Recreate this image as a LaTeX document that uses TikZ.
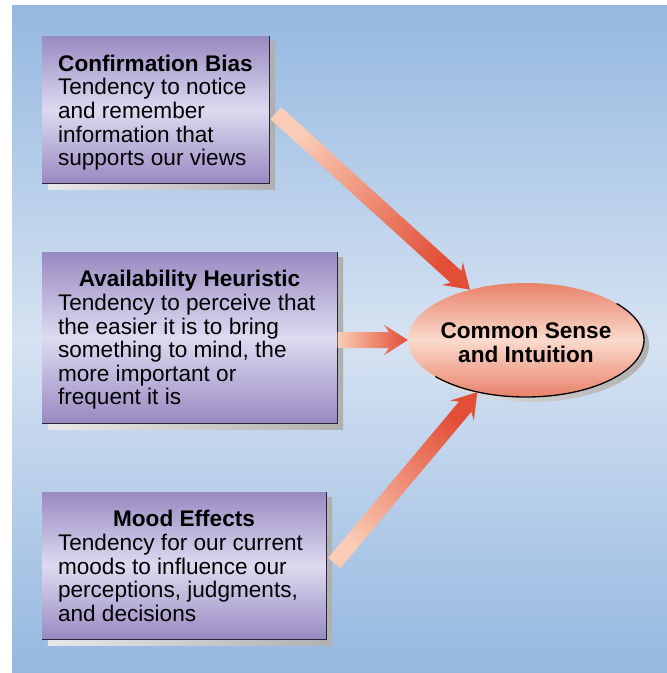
\documentclass[tikz,border=0pt]{standalone}
\usepackage{fontspec}
\setmainfont{Liberation Sans}
\usetikzlibrary{calc,shapes.geometric}
\pgfdeclarelayer{back}
\pgfsetlayers{back,main}

\definecolor{bgEdge}{RGB}{148,184,224}
\definecolor{bgMid}{RGB}{214,226,242}
\definecolor{boxTop}{RGB}{152,138,194}
\definecolor{boxMid}{RGB}{222,218,240}
\definecolor{boxEdge}{RGB}{40,36,56}
\definecolor{ellTop}{RGB}{232,130,106}
\definecolor{ellMid}{RGB}{250,218,204}
\definecolor{arrTail}{RGB}{250,204,182}
\definecolor{arrHead}{RGB}{226,78,54}

\tikzset{
  card/.style={rectangle, inner sep=0pt, top color=boxTop, bottom color=boxTop, middle color=boxMid},
  cardtext/.style={anchor=north west, inner sep=0pt, align=left,
    font=\fontsize{22.6pt}{23.6pt}\selectfont},
  shadowfill/.style={left color=gray!18, right color=gray!62},
  edgeline/.style={draw=boxEdge, line width=1.2pt},
  arrowfill/.style={left color=arrTail, right color=arrHead},
}

% broad shaded arrow from coordinate #1 (tail) to #2 (tip); #3 = shading angle
\newcommand\fatarrow[3]{%
  \path ($(#2)!24pt!(#1)$) coordinate (#1-w)
        ($(#2)!19pt!(#1)$) coordinate (#1-n);
  \shade[arrowfill, shading angle=#3]
    ($(#1)!8pt!90:(#2)$) -- ($(#1-n)!8pt!90:(#2)$) -- ($(#1-w)!15.5pt!90:(#2)$)
    -- (#2)
    -- ($(#1-w)!15.5pt!-90:(#2)$) -- ($(#1-n)!8pt!-90:(#2)$) -- ($(#1)!8pt!-90:(#2)$)
    -- cycle;
}

\begin{document}
\begin{tikzpicture}[x=1pt, y=-1pt]
\useasboundingbox (0,0) rectangle (667,673);

% the three cards
\node[card, minimum width=227pt, minimum height=147pt] (b1) at (155.5,109.5) {};
\node[card, minimum width=295pt, minimum height=171pt] (b2) at (189.5,337.5) {};
\node[card, minimum width=284pt, minimum height=147pt] (b3) at (184,565.5) {};

\foreach \b in {b1,b2,b3}
  \draw[edgeline] (\b.north east) -- (\b.south east) -- (\b.south west);

\node[cardtext] (t1) at ($(b1.north west)+(16,19)$)
  {\makebox[195pt]{\bfseries Confirmation Bias}\\Tendency to notice\\and remember\\information that\\supports our views};
\node[cardtext] (t2) at ($(b2.north west)+(16,18.6)$)
  {\makebox[263pt]{\bfseries Availability Heuristic}\\Tendency to perceive that\\the easier it is to bring\\something to mind, the\\more important or\\frequent it is};
\node[cardtext] (t3) at ($(b3.north west)+(16,18.6)$)
  {\makebox[252pt]{\bfseries Mood Effects}\\Tendency for our current\\moods to influence our\\perceptions, judgments,\\and decisions};

% the target ellipse
\node[ellipse, inner sep=0pt, minimum width=236pt, minimum height=114pt,
      top color=ellTop, bottom color=ellTop, middle color=ellMid] (ell) at (526,340) {};
\begin{scope}
  \clip ($(ell.center)+(139,-56)$) -- ($(ell.center)+(-139,56)$)
        -- ($(ell.center)+(-83,195)$) -- ($(ell.center)+(195,83)$) -- cycle;
  \draw[black, line width=1.3pt] (ell.center) ellipse [x radius=118pt, y radius=57pt];
\end{scope}

% backdrop and drop shadows
\begin{pgfonlayer}{back}
  \shade[top color=bgEdge, bottom color=bgEdge, middle color=bgMid] (12,5) rectangle (667,673);
  \foreach \b in {b1,b2,b3}
    \shade[shadowfill] ($(\b.north west)+(6,6)$) rectangle ($(\b.south east)+(6,6)$);
  \shade[shadowfill] ($(ell.center)+(5,5)$) ellipse [x radius=118pt, y radius=57pt];
\end{pgfonlayer}

% arrows into the ellipse
\coordinate (a1s) at ($(b1.east)+(6.7,3.8)$);
\coordinate (a2s) at ($(b2.east)+(0.5,2.5)$);
\coordinate (a3s) at ($(b3.east)+(8,-2.5)$);
\fatarrow{a1s}{ell.138}{47.7}
\fatarrow{a2s}{ell.west}{90}
\fatarrow{a3s}{ell.227.8}{139.7}

\node[font=\bfseries\fontsize{22.6pt}{24pt}\selectfont, align=center, inner sep=0pt]
  (elltext) at ($(ell.center)+(0,2.5)$) {Common Sense\\and Intuition};
\end{tikzpicture}
\end{document}
